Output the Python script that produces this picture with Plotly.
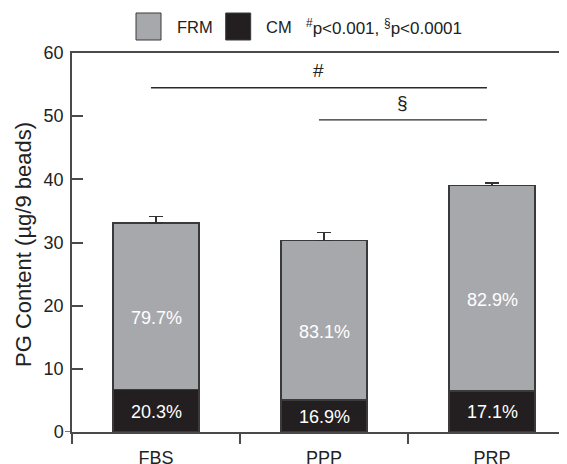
import plotly.graph_objects as go

# ---- data ----
categories = ["FBS", "PPP", "PRP"]
cm_values = [6.75, 5.1, 6.5]          # CM (black, bottom)
frm_values = [26.33, 25.2, 32.54]     # FRM (gray, stacked on top)
frm_err = [1.0, 1.25, 0.4]            # upward SEM on total
cm_pct = ["20.3%", "16.9%", "17.1%"]
frm_pct = ["79.7%", "83.1%", "82.9%"]
y_ticks = [0, 10, 20, 30, 40, 50, 60]
# significance brackets: (symbol, from category index, to category index, y level)
sig_marks = [("#", 0, 2, 54.5), ("§", 1, 2, 49.4)]
legend_note = "<sup>#</sup>p&lt;0.001, <sup>§</sup>p&lt;0.0001"

OFF = 8  # default page body margin
W, H = 567 - OFF, 464 - OFF
L, R, T, B = 72 - OFF, 0, 53 - OFF, 32
PW, PH = W - L - R, H - T - B

def px_x(px):
    return (px - OFF - L) / PW

def px_y(py):
    return (H - B - (py - OFF)) / PH

GRAY = "#a7a8ab"
BLACK = "#231f20"
EDGE = "#3a3a3a"
AXIS = "#4a4a4a"
FONT = "Liberation Sans, Arial, sans-serif"

xs = list(range(len(categories)))

fig = go.Figure()
fig.add_trace(go.Bar(
    x=xs, y=cm_values, name="CM", width=0.51,
    marker=dict(color=BLACK, line=dict(color=EDGE, width=1.5)),
    showlegend=False,
))
fig.add_trace(go.Bar(
    x=xs, y=frm_values, name="FRM", width=0.51,
    marker=dict(color=GRAY, line=dict(color=EDGE, width=1.5)),
    error_y=dict(type="data", array=frm_err, arrayminus=[0] * len(xs),
                 symmetric=False, color="#333333", thickness=1.5, width=7),
    showlegend=False,
))

annotations = []
for i, cat in enumerate(categories):
    total = cm_values[i] + frm_values[i]
    annotations.append(dict(x=i, y=cm_values[i] / 2, text=cm_pct[i], showarrow=False,
                            font=dict(color="white", size=18, family=FONT), yshift=-1))
    annotations.append(dict(x=i, y=(cm_values[i] + total) / 2, text=frm_pct[i], showarrow=False,
                            font=dict(color="white", size=18, family=FONT), yshift=-12))

shapes = []
for sym, a, b, yv in sig_marks:
    shapes.append(dict(type="line", xref="x", yref="y", x0=a - 0.03, x1=b - 0.03, y0=yv, y1=yv,
                       line=dict(color="#2a2a2a", width=1.3)))
    annotations.append(dict(x=(a + b) / 2 - 0.03, y=yv, text=sym, showarrow=False, yshift=17,
                            font=dict(size=19, color="#222", family=FONT)))

# small extension of x axis line left of the y axis
shapes.append(dict(type="line", xref="paper", yref="y", x0=px_x(65), x1=0, y0=0, y1=0,
                   line=dict(color=AXIS, width=1.5)))

# manual legend
shapes.append(dict(type="rect", xref="paper", yref="paper", x0=px_x(136), x1=px_x(161),
                   y0=px_y(40), y1=px_y(13), fillcolor=GRAY, line=dict(color=EDGE, width=1)))
shapes.append(dict(type="rect", xref="paper", yref="paper", x0=px_x(225.7), x1=px_x(250.7),
                   y0=px_y(40), y1=px_y(13), fillcolor=BLACK, line=dict(color=EDGE, width=1)))
for txt, xl, fs in [("FRM", 174.5, 16.5), ("CM", 264, 16.5), (legend_note, 304, 17)]:
    annotations.append(dict(xref="paper", yref="paper", x=px_x(xl), y=px_y(27), text=txt,
                            xanchor="left", yanchor="middle", showarrow=False,
                            font=dict(size=fs, color="#222", family=FONT)))

# y-axis title
annotations.append(dict(xref="paper", yref="paper", x=px_x(23), y=px_y(245),
                        text="PG Content (µg/9 beads)", textangle=-90, showarrow=False,
                        xanchor="center", yanchor="middle",
                        font=dict(size=22, color="#222", family=FONT)))

fig.update_layout(
    width=W, height=H,
    margin=dict(l=L, r=R, t=T, b=B, pad=0, autoexpand=False),
    barmode="stack",
    plot_bgcolor="white", paper_bgcolor="white",
    font=dict(family=FONT, color="#222"),
    shapes=shapes, annotations=annotations,
    xaxis=dict(
        range=[-0.5, -0.5 + PW / 168.0], automargin=False,
        tickvals=xs, ticktext=categories, ticks="", showgrid=False, zeroline=False,
        showline=True, linecolor=AXIS, linewidth=1.5, mirror=True,
        tickfont=dict(size=18, color="#222"),
        ticklabelstandoff=9,
        minor=dict(tickvals=[-0.5, 0.5, 1.5], ticks="outside", ticklen=10,
                   tickwidth=1.5, tickcolor=AXIS, showgrid=False),
    ),
    yaxis=dict(
        range=[0, 60], tickvals=y_ticks, ticks="inside", ticklen=11, tickwidth=1.5,
        automargin=False,
        tickcolor=AXIS, showline=True, linecolor=AXIS, linewidth=1.5,
        showgrid=False, zeroline=False, tickfont=dict(size=18, color="#222"),
        ticklabelstandoff=3,
    ),
)

fig.write_html("out.html")
